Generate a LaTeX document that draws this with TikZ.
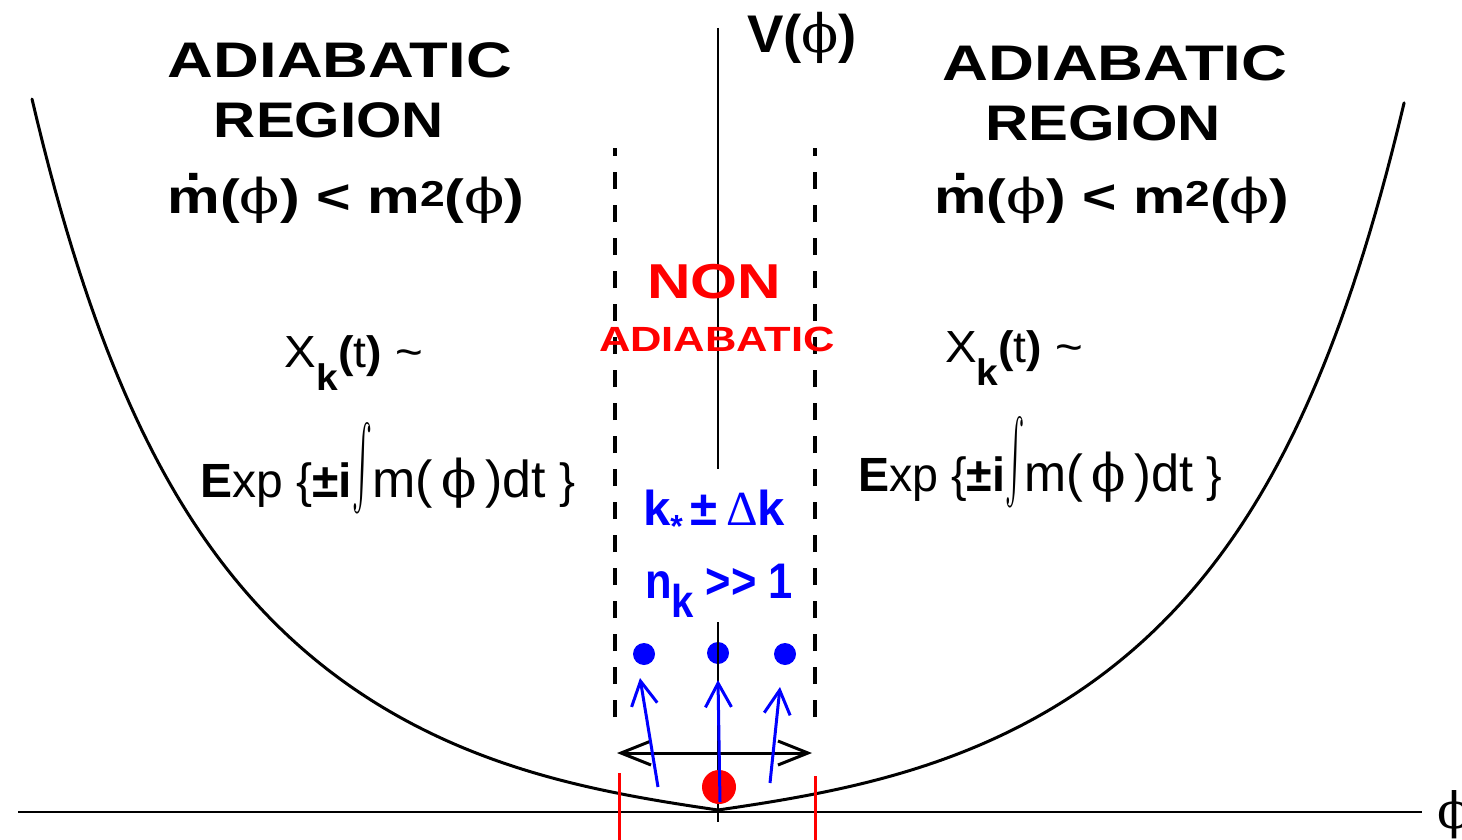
\documentclass[tikz,border=0pt]{standalone}
\usepackage{fontspec}
\usepackage{graphicx}
\setmainfont{Liberation Sans}
\newfontfamily\phifont{DejaVu Serif}
\newfontfamily\sgfont{Liberation Serif}
\newfontfamily\noligsans[Ligatures=ResetAll]{Liberation Sans}
\usetikzlibrary{arrows.meta}
\definecolor{pblue}{RGB}{0,0,255}
\definecolor{pred}{RGB}{255,0,0}
\newcommand\fs[1]{\fontsize{#1}{#1}\selectfont}
\newcommand\fitw[2]{\resizebox{#1}{\height}{#2}}
\newcommand\vphi{{\phifont\mdseries ϕ}}
\newcommand\mdot{\ooalign{m\cr\hidewidth\raisebox{0.68em}{.}\hidewidth\cr}}
\newcommand\intg{\raisebox{-23pt}{\resizebox*{20pt}{97pt}{\raisebox{\depth}{$\int$}}}}
\newcommand\condtext{\fs{48}\bfseries \mdot(\vphi) < m\raisebox{7pt}{\fs{36}2}(\vphi)}
\newcommand\xktext{\fs{45}X\raisebox{-23pt}{\fs{37}\bfseries k}{\fs{44}\textbf{(}t\textbf{)}} \textasciitilde}
\newcommand\exptext{\fs{48}\textbf{E}xp \{\textbf{±i}\intg{\fs{52}m(\,\vphi\,)dt} \}}
\begin{document}
\begin{tikzpicture}[x=1pt,y=-1pt,
  txt/.style={inner sep=0pt,anchor=base},
  curve/.style={line width=3pt,line join=round,line cap=round},
  axis/.style={line width=2pt},
  dashline/.style={line width=3.5pt,dash pattern=on 17pt off 16pt},
  redline/.style={line width=3pt,draw=pred},
  bluearrow/.style={line width=3pt,draw=pblue,-{Straight Barb[length=24pt,width=26pt]}},
  dblarrow/.style={line width=3pt,{Straight Barb[length=30pt,width=24pt]}-{Straight Barb[length=30pt,width=24pt]}},
  bluedot/.style={circle,fill=pblue,inner sep=0pt,minimum size=22pt},
  reddot/.style={circle,fill=pred,inner sep=0pt,minimum size=34pt}]
\useasboundingbox (0,0) rectangle (1462,840);
\fill[white] (0,0) rectangle (1462,840);

% axes
\coordinate (hx0) at (18,812);
\coordinate (hx1) at (1422,812);
\draw[axis] (hx0) -- (hx1);
\coordinate (vt) at (718,28);
\coordinate (vm1) at (718,469);
\coordinate (vm2) at (718,622);
\coordinate (vb) at (718,822);
\draw[axis] (vt) -- (vm1);
\draw[axis] (vm2) -- (vb);

% potential curve
\draw[curve] plot[domain=1:0,samples=120,variable=\u]
  ({718-686*\u},{810-(100*\u+50*\u*\u+353*\u*\u*\u+208*\u^8)});
\draw[curve] plot[domain=0:1,samples=120,variable=\u]
  ({718+687*\u},{810-(100*\u+50*\u*\u+353*\u*\u*\u+208*\u^8)});

% dashed boundaries
\coordinate (dlb) at (615,717); \coordinate (dlt) at (615,148);
\coordinate (drb) at (815,717); \coordinate (drt) at (815,148);
\draw[dashline] (dlb) -- (dlt);
\draw[dashline] (drb) -- (drt);

% red bounds
\coordinate (rl0) at (619,773); \coordinate (rl1) at (619,840);
\coordinate (rr0) at (815,776); \coordinate (rr1) at (815,840);
\draw[redline] (rl0) -- (rl1);
\draw[redline] (rr0) -- (rr1);

% red dot
\node[reddot] (rd) at (719,787) {};

% double arrow
\coordinate (da0) at (617,753); \coordinate (da1) at (812,753);
\draw[dblarrow] (da0) -- (da1);

% blue arrows and dots
\coordinate (a1s) at (658,787); \coordinate (a1e) at (640,678);
\coordinate (a2s) at (720,802); \coordinate (a2e) at (718,680);
\coordinate (a3s) at (770,783); \coordinate (a3e) at (780,687);
\draw[bluearrow] (a1s) -- (a1e);
\draw[bluearrow] (a2s) -- (a2e);
\draw[bluearrow] (a3s) -- (a3e);
\node[bluedot] (b1) at (644,654) {};
\node[bluedot] (b2) at (718,653) {};
\node[bluedot] (b3) at (785,654) {};
\coordinate (vd0) at (718,640); \coordinate (vd1) at (718,668);
\draw[axis] (vd0) -- (vd1);

% texts left
\node[txt] (hl1) at (340,78) {\fs{50}\bfseries\fitw{344pt}{ADIABATIC}};
\node[txt] (hl2) at (329,138) {\fs{50}\bfseries\fitw{230pt}{REGION}};
\node[txt] (cl) at (346,213) {\fitw{357pt}{\condtext}};
\node[txt] (xl) at (354,367) {\fitw{138pt}{\xktext}};
\node[txt] (el) at (388,497) {\fitw{375pt}{\exptext}};

% texts right
\node[txt] (hr1) at (1115,81) {\fs{50}\bfseries\fitw{345pt}{ADIABATIC}};
\node[txt] (hr2) at (1103,141) {\fs{50}\bfseries\fitw{236pt}{REGION}};
\node[txt] (cr) at (1112,213) {\fitw{355pt}{\condtext}};
\node[txt] (xr) at (1014,362) {\fitw{138pt}{\xktext}};
\node[txt] (er) at (1040,491) {\fitw{364pt}{\exptext}};

% centre texts
\node[txt,text=pred] (non) at (714,298) {\fs{49}\bfseries\fitw{134pt}{NON}};
\node[txt,text=pred] (nad) at (717,351) {\fs{35}\bfseries\fitw{236pt}{ADIABATIC}};
\node[txt,text=pblue] (kd) at (714,525) {\fs{49}\bfseries\fitw{142pt}{k\raisebox{-12pt}{\fs{32}*}\,±\,{\sgfont\mdseries Δ}k}};
\node[txt,text=pblue] (nk) at (719,598) {\fs{50}\bfseries\fitw{148pt}{n\raisebox{-19pt}{\fs{46}k} {\noligsans\bfseries >\kern0pt>} 1}};
\node[txt] (vl) at (802,53) {\fs{53}\bfseries\fitw{110pt}{V(\vphi)}};
\node[txt,anchor=base west] (pl) at (1437,828) {\fs{50}\vphi};
\end{tikzpicture}
\end{document}
